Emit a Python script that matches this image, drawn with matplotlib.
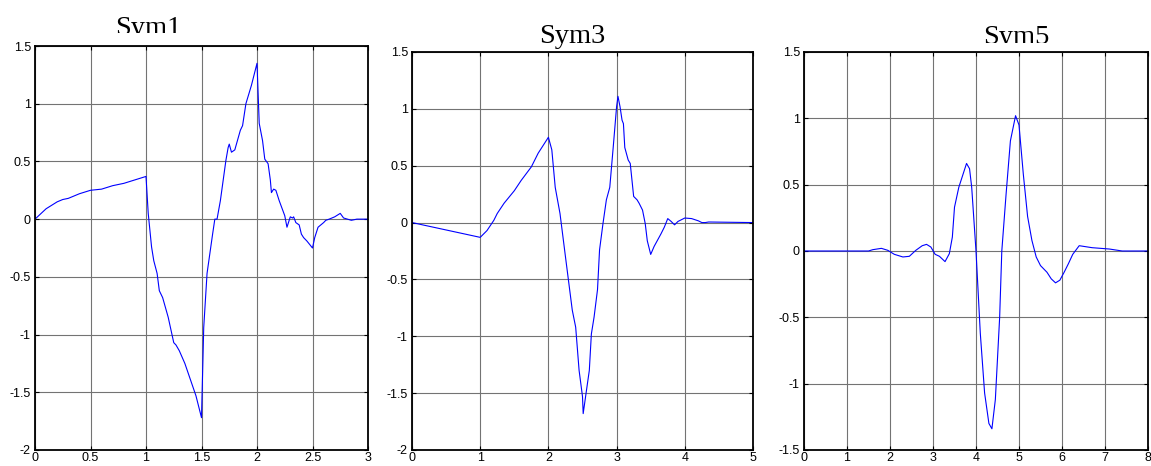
import numpy as np
import matplotlib
matplotlib.use('Agg')
import matplotlib.pyplot as plt
from matplotlib.transforms import Bbox

# Sym1 wavelet-like curve
sym1_x = [0.0, 0.1, 0.2, 0.25, 0.3, 0.4, 0.5, 0.6, 0.7, 0.8, 0.9, 1.0,
          1.02, 1.05, 1.07, 1.1, 1.12, 1.15, 1.2, 1.25, 1.27, 1.3, 1.35, 1.4, 1.45, 1.5,
          1.52, 1.55, 1.6, 1.62, 1.64, 1.67, 1.72, 1.74, 1.75, 1.77, 1.8, 1.85, 1.87, 1.9, 1.95, 2.0,
          2.02, 2.05, 2.07, 2.1, 2.12, 2.13, 2.15, 2.17, 2.2, 2.25, 2.27, 2.3, 2.32, 2.33, 2.35,
          2.38, 2.4, 2.42, 2.45, 2.5,
          2.52, 2.55, 2.6, 2.62, 2.65, 2.7, 2.75, 2.78, 2.85, 2.9, 3.0]
sym1_y = [0.0, 0.09, 0.15, 0.17, 0.18, 0.22, 0.25, 0.26, 0.29, 0.31, 0.34, 0.37,
          0.05, -0.24, -0.36, -0.47, -0.62, -0.68, -0.85, -1.07, -1.09, -1.14, -1.25, -1.39, -1.53, -1.72,
          -0.94, -0.47, -0.13, 0.0, 0.0, 0.16, 0.51, 0.62, 0.65, 0.58, 0.60, 0.77, 0.81, 1.0, 1.16, 1.35,
          0.83, 0.68, 0.52, 0.48, 0.34, 0.23, 0.26, 0.25, 0.16, 0.03, -0.07, 0.02, 0.01, 0.02, -0.03,
          -0.05, -0.13, -0.16, -0.19, -0.25,
          -0.16, -0.07, -0.03, -0.01, 0.0, 0.02, 0.05, 0.01, -0.01, 0.0, 0.0]

# Sym3
sym3_x = [0.0, 1.0, 1.1, 1.2, 1.25, 1.35, 1.5, 1.6, 1.75, 1.85, 2.0,
          2.05, 2.1, 2.17, 2.25, 2.35, 2.4, 2.45, 2.5, 2.51,
          2.55, 2.6, 2.63, 2.67, 2.72, 2.75, 2.8, 2.85, 2.9, 2.95, 3.0, 3.02,
          3.05, 3.08, 3.1, 3.12, 3.17, 3.2, 3.25, 3.3, 3.33, 3.38, 3.42, 3.45, 3.5,
          3.55, 3.65, 3.7, 3.75, 3.8, 3.85, 3.9, 4.0, 4.1, 4.2, 4.25, 4.3, 4.35, 5.0]
sym3_y = [0.0, -0.13, -0.07, 0.02, 0.08, 0.17, 0.28, 0.37, 0.49, 0.61, 0.75,
          0.64, 0.31, 0.08, -0.30, -0.77, -0.92, -1.30, -1.53, -1.68,
          -1.51, -1.30, -0.98, -0.83, -0.59, -0.24, -0.01, 0.20, 0.31, 0.66, 1.02, 1.11,
          1.02, 0.90, 0.87, 0.66, 0.55, 0.52, 0.23, 0.20, 0.17, 0.11, -0.01, -0.16, -0.28,
          -0.21, -0.10, -0.04, 0.035, 0.01, -0.02, 0.01, 0.04, 0.035, 0.015, 0.0, 0.0, 0.005, 0.0]

# Sym5
sym5_x = [0.0, 1.5, 1.6, 1.8, 1.95, 2.1, 2.3, 2.45, 2.6, 2.75, 2.85, 2.95, 3.05, 3.15,
          3.28, 3.38, 3.45, 3.5, 3.6, 3.7, 3.78, 3.85, 3.9, 4.0, 4.1, 4.2, 4.3, 4.37,
          4.45, 4.55, 4.6, 4.7, 4.8, 4.92, 5.0, 5.1, 5.2, 5.3, 5.4, 5.5, 5.65, 5.75,
          5.85, 5.95, 6.05, 6.15, 6.25, 6.4, 6.5, 6.7, 6.9, 7.1, 7.3, 7.4, 8.0]
sym5_y = [0.0, 0.0, 0.01, 0.02, 0.005, -0.025, -0.045, -0.04, 0.005, 0.04, 0.05, 0.03, -0.025, -0.04,
          -0.08, -0.02, 0.105, 0.33, 0.48, 0.58, 0.66, 0.62, 0.48, 0.0, -0.62, -1.07, -1.30, -1.34,
          -1.12, -0.50, 0.0, 0.43, 0.83, 1.02, 0.95, 0.58, 0.26, 0.08, -0.045, -0.11, -0.16, -0.21,
          -0.24, -0.22, -0.16, -0.095, -0.025, 0.04, 0.035, 0.025, 0.02, 0.015, 0.005, 0.0, 0.0]

W, H = 1151, 466
fig = plt.figure(figsize=(W / 100, H / 100), dpi=100)
plt.rcParams['font.family'] = 'Liberation Sans'


def make_axes(left, top, right, bottom):
    return fig.add_axes([left / W, 1 - bottom / H, (right - left) / W, (bottom - top) / H])


panels = [
    # box, x, y, xlim, xticks, ylim, yticks
    ((35, 46, 368, 450), sym1_x, sym1_y, (0, 3), np.arange(0, 3.01, 0.5), (-2, 1.5), np.arange(-2, 1.51, 0.5)),
    ((412, 52, 753, 450), sym3_x, sym3_y, (0, 5), np.arange(0, 5.01, 1), (-2, 1.5), np.arange(-2, 1.51, 0.5)),
    ((804, 52, 1148, 450), sym5_x, sym5_y, (0, 8), np.arange(0, 8.01, 1), (-1.5, 1.5), np.arange(-1.5, 1.51, 0.5)),
]

for box, xs, ys, xlim, xticks, ylim, yticks in panels:
    ax = make_axes(*box)
    ax.plot(xs, ys, color='#0000ff', lw=0.8)
    ax.set_xlim(*xlim)
    ax.set_ylim(*ylim)
    ax.set_xticks(xticks)
    ax.set_yticks(yticks)
    ax.set_xticklabels(['%g' % t for t in xticks])
    ax.set_yticklabels(['%g' % t for t in yticks])
    ax.grid(True, color='0.45', lw=0.8)
    ax.set_axisbelow(True)
    ax.tick_params(direction='in', top=True, right=True, length=3, width=0.8, labelsize=9)
    # keep bottom labels just inside the figure edge
    ax.tick_params(axis='x', pad=1.2)
    ax.tick_params(axis='y', pad=3)
    for sp in ax.spines.values():
        sp.set_linewidth(1.3)

# titles (partly cut off as in the original)
titles = [('Sym1', 148, 35, 33), ('Sym3', 572, 43, 60), ('Sym5', 1016, 44, 43)]
for label, cx, base, cut in titles:
    t = fig.text(cx / W, 1 - base / H, label, ha='center', va='baseline',
                 fontsize=20.5, family='Liberation Serif')
    t.set_clip_box(Bbox([[0, H - cut], [W, H]]))
    t.set_clip_on(True)

fig.savefig('out.png', dpi=100)
